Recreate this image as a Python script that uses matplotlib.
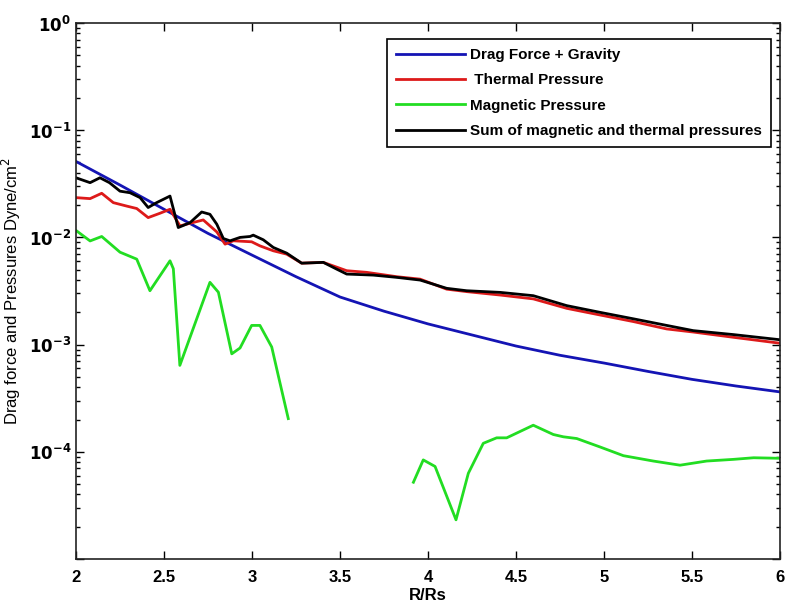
import numpy as np
import matplotlib
matplotlib.use('Agg')
from matplotlib import pyplot as plt
from matplotlib.ticker import LogLocator, FixedLocator, FuncFormatter

# Drag force + gravity
x_drag = [2.0, 2.25, 2.5, 2.75, 3.0, 3.25, 3.5, 3.75, 4.0, 4.25, 4.5, 4.75, 5.0, 5.25, 5.5, 5.75, 6.0]
y_drag = [0.0511, 0.0308, 0.0183, 0.0109, 0.00684, 0.0043, 0.00278, 0.00205, 0.00156, 0.00123,
          0.00097, 0.000795, 0.000673, 0.000562, 0.000474, 0.000411, 0.000362]

# Thermal pressure
x_therm = [2.0, 2.08, 2.146, 2.212, 2.288, 2.345, 2.41, 2.477, 2.534, 2.591, 2.648, 2.723, 2.8, 2.847,
           2.894, 2.998, 3.045, 3.121, 3.197, 3.282, 3.405, 3.538, 3.652, 3.822, 3.955, 4.106, 4.22,
           4.41, 4.598, 4.788, 4.977, 5.167, 5.356, 5.507, 5.735, 6.0]
y_therm = [0.0235, 0.023, 0.0258, 0.0211, 0.0196, 0.0186, 0.0153, 0.0168, 0.0183, 0.0128, 0.01355,
           0.01455, 0.01125, 0.00865, 0.0093, 0.0091, 0.00834, 0.0075, 0.00698, 0.00575, 0.00585,
           0.00489, 0.00472, 0.0043, 0.00408, 0.00329, 0.00312, 0.0029, 0.00267, 0.00218, 0.00189,
           0.00164, 0.0014, 0.00131, 0.00117, 0.00103]

# Magnetic pressure (two pieces, gap between 3.2 and 3.9)
x_mag1 = [2.004, 2.08, 2.146, 2.25, 2.345, 2.42, 2.534, 2.553, 2.59, 2.761, 2.809, 2.885, 2.932,
          2.998, 3.045, 3.112, 3.149, 3.206]
y_mag1 = [0.01148, 0.00927, 0.0102, 0.00728, 0.00627, 0.00318, 0.00605, 0.0051, 0.00064, 0.00381,
          0.00308, 0.00082, 0.00093, 0.00151, 0.00151, 0.00095, 0.000516, 0.000204]
x_mag2 = [3.917, 3.973, 4.04, 4.159, 4.229, 4.314, 4.39, 4.447, 4.598, 4.712, 4.769, 4.845, 4.92,
          4.977, 5.11, 5.28, 5.432, 5.583, 5.735, 5.85, 6.0]
y_mag2 = [5.2e-5, 8.4e-5, 7.3e-5, 2.32e-5, 6.3e-5, 1.2e-4, 1.35e-4, 1.35e-4, 1.77e-4, 1.45e-4,
          1.38e-4, 1.33e-4, 1.2e-4, 1.11e-4, 9.2e-5, 8.2e-5, 7.5e-5, 8.2e-5, 8.5e-5, 8.8e-5, 8.7e-5]

# Sum of magnetic and thermal
x_sum = [2.0, 2.08, 2.136, 2.19, 2.25, 2.307, 2.364, 2.41, 2.458, 2.534, 2.581, 2.648, 2.714, 2.761,
         2.8, 2.837, 2.875, 2.932, 2.989, 3.007, 3.064, 3.121, 3.197, 3.282, 3.405, 3.481, 3.538,
         3.689, 3.822, 3.955, 4.106, 4.22, 4.41, 4.598, 4.788, 4.977, 5.167, 5.356, 5.507, 5.735, 6.0]
y_sum = [0.036, 0.0324, 0.036, 0.0324, 0.027, 0.0261, 0.0235, 0.019, 0.0211, 0.0243, 0.01236,
         0.01374, 0.01726, 0.01643, 0.01327, 0.00977, 0.00929, 0.01, 0.0102, 0.0105, 0.0095, 0.00806,
         0.00713, 0.00575, 0.00585, 0.00506, 0.00455, 0.00445, 0.00424, 0.0040, 0.00335, 0.00318,
         0.00307, 0.00286, 0.00231, 0.002, 0.00174, 0.00151, 0.00135, 0.00124, 0.00111]

x_ticks = [2, 2.5, 3, 3.5, 4, 4.5, 5, 5.5, 6]

plt.rcParams['font.family'] = ['Liberation Sans', 'DejaVu Sans']

fig = plt.figure(figsize=(7.86, 6.12), dpi=100)
ax = fig.add_axes([0.0967, 0.0866, 0.8957, 0.8758])

lw = 2.0
ax.plot(x_drag, y_drag, color='#1414b4', lw=lw, label='Drag Force + Gravity')
ax.plot(x_therm, y_therm, color='#dd1a1a', lw=lw, label=' Thermal Pressure')
ax.plot(x_mag1, y_mag1, color='#22dd22', lw=lw, label='Magnetic Pressure')
ax.plot(x_mag2, y_mag2, color='#22dd22', lw=lw)
ax.plot(x_sum, y_sum, color='black', lw=lw, label='Sum of magnetic and thermal pressures')

ax.set_yscale('log')
ax.set_xlim(2, 6)
ax.set_ylim(1e-5, 1)

ax.xaxis.set_major_locator(FixedLocator(x_ticks))
ax.xaxis.set_major_formatter(FuncFormatter(lambda v, p: '%g' % v))
ax.yaxis.set_major_locator(LogLocator(base=10, numticks=10))
ax.yaxis.set_minor_locator(LogLocator(base=10, subs=np.arange(2, 10), numticks=10))

def ylab(v, p):
    e = int(round(np.log10(v)))
    if e == -5:
        return ''
    return r'$\mathbf{10^{%d}}$' % e

ax.yaxis.set_major_formatter(FuncFormatter(ylab))
ax.tick_params(axis='both', which='both', direction='in', top=True, right=True)
ax.tick_params(axis='both', which='major', length=6, width=1, labelsize=12)
ax.tick_params(axis='y', which='minor', length=3, width=1)
ax.tick_params(axis='x', which='major', pad=8)
for t in ax.get_xticklabels():
    t.set_fontweight('bold')

for s in ax.spines.values():
    s.set_linewidth(1.2)
    s.set_color('#222222')

ax.set_xlabel('R/Rs', fontsize=12, fontweight='bold', labelpad=2)
ax.set_ylabel(r'Drag force and Pressures Dyne/cm$^2$', fontsize=12, labelpad=4)

leg = ax.legend(loc='upper right', bbox_to_anchor=(0.9975, 0.985), fancybox=False,
                edgecolor='black', framealpha=1, prop={'weight': 'bold', 'size': 11},
                handlelength=4.5, borderpad=0.6, labelspacing=0.75, handletextpad=0.3)
leg.get_frame().set_linewidth(1.2)

fig.savefig('out.png', dpi=100)
